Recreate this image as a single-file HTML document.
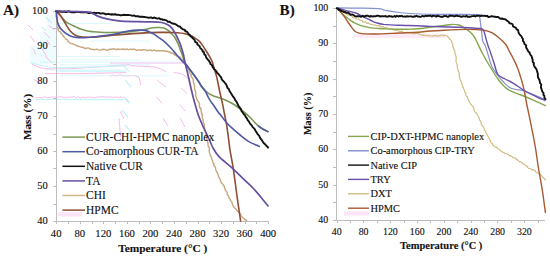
<!DOCTYPE html><html><head><meta charset="utf-8"><style>html,body{margin:0;padding:0;background:#fff;width:550px;height:259px;overflow:hidden}svg{display:block}text{font-family:"Liberation Serif",serif;fill:#111;stroke:#111;stroke-width:0.12px}</style></head><body>
<svg width="550" height="259" viewBox="0 0 550 259">
<rect width="550" height="259" fill="#fff"/>
<g fill="#effcfd">
<rect x="47" y="15" width="9" height="17"/>
<rect x="40" y="32" width="16" height="14"/>
<rect x="30" y="46" width="26" height="18"/>
</g>
<g fill="#fdeaf7">
<rect x="353" y="34" width="92" height="4"/>
<rect x="56" y="12" width="6" height="8"/>
</g>
<g fill="none" stroke="#f8b2e9" stroke-width="0.9">
<path d="M31.6,63.9 C38,67.5 42,68.8 50,68.9 L68.3,68.8 C95,67.5 115,65.5 130,64.6"/>
<path d="M45.1,73.6 L77.9,73.6 L126,72.6"/>
<path d="M110,63 L183.4,63"/>
<path d="M130,65.6 L148.6,66.6 C155,67 159,68 161,69 L166,71.7"/>
<path d="M173.7,72.6 C178,72.8 182,73.8 184,75 L189.2,79.4"/>
<path d="M35.4,97.3 L36.9,97.5 L38.4,97.6 L39.9,97.7 L41.4,97.5 L42.9,97.7 L44.4,96.6 L45.9,97.2 L47.4,97.7 L48.9,97.4 L50.4,97.7 L51.9,96.7 L53.4,97.2 L54.9,96.9 L56.4,97.3 L57.9,97.3 L59.4,96.6 L60.9,96.9 L62.4,96.9 L63.9,97.7 L65.4,97.5 L66.9,96.8 L68.4,97.6 L69.9,96.8 L71.4,97.3 L72.9,96.8 L74.4,96.6 L75.9,97.6 L77.4,96.9 L78.9,96.9 L80.4,97.8 L81.9,97.6 L83.4,96.9 L84.9,97.8 L86.4,97.2 L87.9,97.4 L89.4,96.8 L90.9,97.7 L92.4,97.4 L93.9,97.8 L95.4,97.7 L96.9,97.0 L98.4,97.0 L99.9,96.8 L101.4,96.8 L102.9,96.7 L104.4,97.0 L105.9,97.3 L107.4,96.6 L108.9,97.4 L110.4,97.0 L111.9,97.0 L113.4,97.6 L114.9,97.2 L116.4,97.0 L117.9,97.2 L119.4,97.4 L120.9,96.7 L122.4,97.8 L123.9,96.6"/>
<path d="M124,97.5 L127,99 L129,103"/>
<path d="M110.0,75.7 L111.5,75.8 L113.0,75.0 L114.5,75.8 L116.0,75.4 L117.5,75.6 L119.0,75.0 L120.5,75.0 L122.0,75.2 L123.5,76.0 L125.0,75.2 L126.5,75.8 L128.0,75.9 L129.5,75.9 L131.0,75.3 L132.5,75.4"/>
<path d="M133,75 L139,77.4 L140.9,85"/>
<path d="M48.4,19.6 L51.9,23.1"/>
<path d="M48.4,25.4 L54.8,30.0"/>
<path d="M44.3,32.4 L50.1,38.2"/>
<path d="M46.7,39.9 L50.1,45.0"/>
<path d="M32.7,48.6 L36.2,54.4"/>
<path d="M42.0,48.6 L46.7,56.7"/>
<path d="M45.5,56.7 L52.4,63.1"/>
<path d="M33.5,79.4 L41.2,83.2"/>
<path d="M157.3,80.3 L166.0,87.1"/>
<path d="M181.4,88.0 L187.2,93.9"/>
<path d="M156.3,96.7 L162.1,103.5"/>
<path d="M179.5,104.5 L185.3,111.2"/>
<path d="M163.0,118.0 L168.0,126.0"/>
<path d="M180.0,118.0 L185.0,127.0"/>
<path d="M28.0,25.0 L33.0,30.0"/>
<path d="M30.0,36.0 L35.0,42.0"/>
<path d="M120.0,111.0 L124.0,119.0"/>
<path d="M119.0,118.0 L120.5,137.0"/>
</g>
<g fill="none" stroke="#c4f4f8" stroke-width="1.3">
<path d="M31,62.5 C40,66 50,67.5 58.6,67.8 L126,65.9"/>
<path d="M58,71.2 L126,71.2"/>
<path d="M40.0,62.2 L180.0,62.2" stroke-width="1" opacity="0.6"/>
<path d="M60.0,64.8 L150.0,64.8" stroke-width="1" opacity="0.6"/>
<path d="M45.0,70.0 L120.0,70.0" stroke-width="1" opacity="0.6"/>
<path d="M60.0,75.8 L170.0,75.8" stroke-width="1" opacity="0.6"/>
<path d="M56.0,23.5 L110.0,23.5" stroke-width="1" opacity="0.6"/>
<path d="M60.0,33.0 L100.0,33.0" stroke-width="1" opacity="0.6"/>
<path d="M90.0,41.0 L150.0,41.0" stroke-width="1" opacity="0.6"/>
<path d="M56.0,56.5 L120.0,56.5" stroke-width="1" opacity="0.6"/>
<path d="M60.0,60.0 L140.0,60.0" stroke-width="1" opacity="0.6"/>
<path d="M36,99.3 L124,99.6"/>
<path d="M123.5,65.9 L129.3,71.7"/>
<path d="M125.4,80.3 L131.2,87.1"/>
<path d="M123.5,96.7 L129.3,103.5"/>
<path d="M122.0,110.0 L128.0,117.0"/>
<path d="M125.0,125.0 L130.0,131.0"/>
<path d="M46.0,17.0 L49.0,21.0"/>
<path d="M42.0,27.0 L46.0,31.0"/>
<path d="M40.0,41.0 L44.0,45.0"/>
</g>
<path d="M56.5,11 V221.5 H268.5" fill="none" stroke="#bdbdbd" stroke-width="1"/>
<path d="M56.5,221.5 v2.5 M68.5,221.5 v2.5 M80.5,221.5 v2.5 M92.5,221.5 v2.5 M103.5,221.5 v2.5 M115.5,221.5 v2.5 M127.5,221.5 v2.5 M139.5,221.5 v2.5 M150.5,221.5 v2.5 M162.5,221.5 v2.5 M174.5,221.5 v2.5 M186.5,221.5 v2.5 M198.5,221.5 v2.5 M209.5,221.5 v2.5 M221.5,221.5 v2.5 M233.5,221.5 v2.5 M245.5,221.5 v2.5 M256.5,221.5 v2.5 M268.5,221.5 v2.5 M53.2,11.5 h3.3 M53.2,28.5 h3.3 M53.2,46.5 h3.3 M53.2,64.5 h3.3 M53.2,81.5 h3.3 M53.2,98.5 h3.3 M53.2,116.5 h3.3 M53.2,134.5 h3.3 M53.2,151.5 h3.3 M53.2,168.5 h3.3 M53.2,186.5 h3.3 M53.2,204.5 h3.3 M53.2,221.5 h3.3" stroke="#bdbdbd" stroke-width="1" fill="none"/>
<path d="M336.5,7.5 V220.5 H545" fill="none" stroke="#bdbdbd" stroke-width="1"/>
<path d="M337.5,220.5 v2.5 M350.5,220.5 v2.5 M363.5,220.5 v2.5 M377.5,220.5 v2.5 M390.5,220.5 v2.5 M404.5,220.5 v2.5 M417.5,220.5 v2.5 M430.5,220.5 v2.5 M444.5,220.5 v2.5 M457.5,220.5 v2.5 M471.5,220.5 v2.5 M484.5,220.5 v2.5 M497.5,220.5 v2.5 M511.5,220.5 v2.5 M524.5,220.5 v2.5 M538.5,220.5 v2.5 M333,8.5 h3.5 M333,26.5 h3.5 M333,43.5 h3.5 M333,61.5 h3.5 M333,79.5 h3.5 M333,96.5 h3.5 M333,114.5 h3.5 M333,132.5 h3.5 M333,149.5 h3.5 M333,167.5 h3.5 M333,185.5 h3.5 M333,202.5 h3.5 M333,220.5 h3.5" stroke="#bdbdbd" stroke-width="1" fill="none"/>
<rect x="58" y="212.3" width="24" height="4.2" fill="#fde4f6"/>
<rect x="344" y="211.3" width="25" height="4.2" fill="#fde4f6"/>
<path d="M56.2,13.5 L56.3,14.2 L56.3,15.2 L56.0,16.4 L56.6,17.6 L56.7,18.9 L56.7,20.0 L57.3,21.0 L57.0,22.1 L57.0,23.2 L57.0,24.2 L57.9,25.0 L57.8,26.0 L58.2,26.7 L57.6,27.7 L58.0,28.4 L58.9,28.8 L58.1,29.9 L58.4,30.5 L59.0,31.0 L59.4,31.6 L60.2,31.8 L60.7,32.3 L60.6,33.1 L61.4,33.3 L61.7,33.9 L62.0,34.3 L62.6,34.6 L62.7,35.4 L63.2,35.8 L63.4,36.7 L64.2,37.0 L64.7,37.7 L65.5,38.3 L66.0,39.1 L66.9,39.6 L67.8,40.1 L68.0,41.4 L68.9,42.1 L69.9,42.8 L70.9,43.4 L72.2,43.7 L73.4,44.2 L74.8,44.9 L76.4,45.2 L77.8,46.4 L79.7,46.5 L81.3,47.4 L83.0,47.3 L84.5,48.3 L86.1,48.5 L87.9,47.9 L89.4,48.4 L90.9,49.4 L92.6,49.2 L94.0,49.9 L95.5,49.4 L96.9,49.2 L98.3,49.9 L100.1,50.1 L102.3,49.5 L103.6,49.3 L105.0,49.6 L106.5,50.2 L108.0,50.0 L109.7,49.2 L111.3,49.3 L113.1,49.0 L114.8,48.9 L116.6,49.7 L118.3,49.0 L119.9,49.4 L121.6,49.2 L123.3,49.0 L124.9,49.6 L126.6,49.0 L128.3,49.6 L130.1,49.1 L131.8,49.5 L133.4,49.3 L135.1,49.4 L136.6,50.3 L138.1,50.1 L139.5,49.6 L140.9,50.3 L143.3,49.7 L145.3,49.9 L147.1,50.5 L148.8,50.3 L150.4,49.8 L152.0,50.8 L153.6,50.1 L155.0,50.3 L156.3,51.0 L157.7,50.7 L158.9,50.8 L160.0,50.6 L161.0,50.6 L161.9,51.1 L162.7,50.6 L163.5,50.9 L164.2,50.6 L165.0,50.7 L165.7,51.4 L166.7,51.1 L167.5,51.5 L168.2,52.0 L169.3,51.7 L170.1,51.9 L170.7,53.1 L171.5,53.3 L172.7,53.2 L173.5,53.6 L174.1,54.5 L174.8,55.1 L175.9,54.8 L176.3,55.9 L177.1,56.2 L178.0,56.3 L178.8,56.6 L179.8,56.9 L180.6,57.5 L180.6,58.9 L182.0,59.1 L182.3,60.2 L183.5,60.8 L183.7,62.2 L184.7,63.2 L185.7,64.2 L186.6,65.5 L186.8,67.1 L188.2,68.1 L188.8,69.6 L189.1,71.1 L189.5,72.5 L190.4,73.8 L191.3,75.0 L191.2,76.7 L192.5,77.9 L193.2,79.4 L193.3,81.1 L193.5,82.9 L194.3,84.5 L194.5,86.2 L194.6,88.0 L194.8,89.7 L195.6,91.3 L195.8,93.1 L195.6,94.9 L195.9,96.6 L196.6,98.0 L197.0,99.5 L197.6,100.8 L198.5,101.8 L199.1,103.0 L199.6,104.2 L199.1,105.6 L199.7,106.7 L199.8,107.9 L201.1,108.7 L200.8,110.0 L201.2,111.0 L201.3,112.1 L201.9,113.0 L201.4,114.1 L202.6,114.8 L202.3,115.9 L202.3,116.9 L202.4,118.1 L202.8,119.2 L203.1,120.4 L203.2,121.6 L203.4,122.9 L204.3,124.3 L204.3,126.0 L204.5,128.1 L204.9,130.3 L205.9,132.6 L206.0,135.1 L206.4,137.4 L207.1,139.5 L207.4,141.4 L208.0,143.0 L208.0,144.7 L208.3,146.3 L209.3,147.9 L209.2,150.0 L209.4,152.4 L210.2,154.8 L210.8,156.1 L211.5,157.3 L211.6,158.7 L212.2,160.0 L212.8,161.2 L212.8,162.7 L214.0,163.6 L213.7,165.1 L215.4,167.2 L215.7,169.7 L216.8,171.9 L218.0,174.1 L218.5,176.4 L219.7,178.5 L220.5,180.6 L221.2,182.7 L222.8,184.2 L224.0,186.0 L224.8,188.1 L225.5,190.5 L226.6,191.5 L227.2,192.6 L227.1,194.3 L228.0,195.5 L228.8,196.7 L229.1,198.3 L230.3,199.3 L230.6,200.8 L231.7,201.8 L232.2,203.2 L232.5,204.5 L233.0,205.7 L234.4,207.8 L236.2,209.3 L237.4,211.2 L238.9,212.6 L240.3,213.9 L241.2,215.5 L242.1,217.0 L243.2,218.1 L244.4,219.0 L245.2,220.1 L246.5,220.3 L246.9,221.0" fill="none" stroke="#c8a67e" stroke-width="1.4" stroke-linejoin="round" stroke-linecap="round"/>
<path d="M56.2,11.0 C56.4,11.3 56.9,11.8 57.6,12.6 C58.3,13.4 59.5,14.5 60.5,15.7 C61.5,16.9 62.4,18.5 63.5,19.6 C64.6,20.8 65.8,21.8 67.0,22.6 C68.2,23.4 69.5,23.9 71.0,24.6 C72.5,25.3 74.2,26.2 75.7,26.9 C77.2,27.6 78.5,28.4 80.3,29.0 C82.0,29.6 84.2,30.4 86.2,30.8 C88.2,31.2 89.7,31.4 92.0,31.6 C94.3,31.8 97.2,32.1 100.0,32.2 C102.8,32.4 105.7,32.5 109.0,32.5 C112.3,32.5 116.8,32.5 120.0,32.4 C123.2,32.3 124.1,32.4 128.3,31.9 C132.5,31.4 141.4,30.2 145.0,29.6 C148.6,29.0 147.9,28.7 150.0,28.3 C152.1,27.9 155.4,27.6 157.7,27.5 C160.0,27.4 162.1,27.4 163.9,27.9 C165.7,28.4 167.0,29.6 168.3,30.5 C169.6,31.4 170.5,32.4 171.5,33.5 C172.5,34.6 173.6,35.7 174.5,37.0 C175.4,38.3 176.2,40.0 177.0,41.5 C177.8,43.0 178.3,44.3 179.0,46.0 C179.7,47.7 180.3,49.7 181.0,51.5 C181.7,53.3 182.3,55.0 183.0,57.0 C183.7,59.0 184.0,61.6 185.0,63.5 C186.0,65.4 187.6,66.9 188.8,68.5 C190.0,70.1 190.8,71.0 192.4,73.2 C194.0,75.4 197.0,79.4 198.5,81.6 C200.0,83.8 200.3,84.8 201.4,86.3 C202.5,87.8 203.8,89.4 205.0,90.6 C206.2,91.8 207.3,92.6 208.5,93.4 C209.7,94.2 210.9,94.8 212.0,95.3 C213.1,95.8 213.2,95.8 215.3,96.5 C217.4,97.2 221.5,98.4 224.7,99.8 C227.9,101.2 231.4,102.9 234.3,104.7 C237.2,106.5 239.9,108.8 242.0,110.4 C244.1,112.0 245.1,112.7 246.9,114.3 C248.7,115.9 250.6,118.0 252.6,120.0 C254.6,122.0 256.4,124.5 259.0,126.5 C261.6,128.4 266.5,130.8 268.0,131.7" fill="none" stroke="#7d9855" stroke-width="1.6" stroke-linejoin="round" stroke-linecap="round"/>
<path d="M258.5,126.0 C259.2,126.5 261.4,128.4 263.0,129.3 C264.6,130.2 267.2,131.3 268.0,131.7" fill="none" stroke="#5a5aa8" stroke-width="1.6" stroke-linejoin="round" stroke-linecap="round"/>
<path d="M56.2,11.0 C56.4,11.2 56.7,11.6 57.4,12.3 C58.1,13.0 59.2,13.9 60.2,15.2 C61.2,16.4 62.1,18.1 63.2,19.8 C64.3,21.5 65.4,23.7 66.6,25.6 C67.8,27.5 69.0,29.6 70.5,31.2 C72.0,32.8 73.5,34.2 75.3,35.2 C77.1,36.2 78.7,36.6 81.1,36.9 C83.5,37.2 86.8,37.2 89.8,37.2 C92.8,37.2 96.2,36.9 99.4,36.6 C102.6,36.3 105.6,35.9 109.0,35.6 C112.4,35.3 115.2,35.0 120.0,34.6 C124.8,34.2 131.3,33.8 138.0,33.4 C144.7,33.0 153.4,32.5 160.0,32.4 C166.6,32.3 172.6,32.3 177.4,32.7 C182.2,33.1 185.5,33.5 189.0,34.8 C192.5,36.1 196.3,38.8 198.6,40.6 C200.8,42.4 201.2,43.6 202.5,45.4 C203.8,47.2 205.1,49.3 206.3,51.2 C207.5,53.1 208.6,54.8 209.6,56.6 C210.6,58.4 211.5,59.8 212.3,62.0 C213.1,64.2 213.8,67.1 214.6,69.7 C215.3,72.3 216.2,74.9 216.8,77.4 C217.4,80.0 217.9,82.6 218.4,85.0 C218.9,87.4 219.3,89.8 219.8,92.0 C220.3,94.2 220.8,96.4 221.3,98.5 C221.8,100.6 222.1,102.0 222.7,104.7 C223.3,107.5 224.0,111.7 224.7,115.0 C225.3,118.3 226.0,121.0 226.6,124.7 C227.2,128.4 227.8,133.3 228.4,137.5 C229.0,141.7 229.2,144.7 230.0,150.0 C230.8,155.3 232.2,161.3 233.4,169.3 C234.6,177.3 236.1,189.6 237.3,198.2 C238.5,206.8 240.1,217.2 240.6,221.0" fill="none" stroke="#8e4e34" stroke-width="1.6" stroke-linejoin="round" stroke-linecap="round"/>
<path d="M56.2,11.0 C56.3,11.7 56.4,13.2 56.6,15.0 C56.8,16.8 57.0,19.8 57.5,21.9 C58.0,24.0 58.9,25.9 59.9,27.5 C60.9,29.1 62.3,30.4 63.7,31.6 C65.1,32.9 66.9,34.1 68.5,35.0 C70.1,35.9 71.5,36.6 73.4,37.1 C75.3,37.6 77.4,37.8 80.1,37.8 C82.8,37.8 86.6,37.5 89.8,37.3 C93.0,37.0 96.2,36.7 99.4,36.3 C102.6,35.9 105.8,35.5 109.0,35.0 C112.2,34.5 115.5,33.9 118.7,33.2 C121.9,32.5 125.1,31.5 128.3,31.0 C131.5,30.5 135.3,30.2 138.0,30.1 C140.7,30.0 142.8,30.1 144.7,30.4 C146.6,30.7 147.9,31.2 149.5,31.9 C151.1,32.6 153.0,33.5 154.4,34.4 C155.8,35.3 156.8,36.2 158.2,37.2 C159.6,38.2 161.0,38.8 162.9,40.4 C164.8,42.0 167.4,44.4 169.7,46.8 C171.9,49.1 174.2,51.9 176.4,54.5 C178.7,57.1 181.6,60.5 183.2,62.2 C184.8,63.9 184.7,62.8 186.2,64.6 C187.7,66.4 190.3,70.0 192.4,72.8 C194.5,75.6 197.0,79.0 198.5,81.3 C200.0,83.5 200.3,84.7 201.4,86.3 C202.5,87.9 204.1,89.2 205.3,91.1 C206.5,93.0 207.5,95.8 208.4,97.5 C209.3,99.2 209.8,100.1 210.7,101.4 C211.6,102.7 212.3,103.5 213.6,105.3 C214.9,107.1 217.2,110.8 218.4,112.5 C219.6,114.2 219.4,113.5 220.8,115.2 C222.2,116.9 224.3,120.2 226.6,122.7 C228.8,125.2 232.1,128.1 234.3,130.2 C236.6,132.2 237.7,133.1 240.1,135.0 C242.5,136.9 245.6,139.7 248.8,141.6 C252.0,143.5 257.6,145.6 259.4,146.4" fill="none" stroke="#4e58a6" stroke-width="1.6" stroke-linejoin="round" stroke-linecap="round"/>
<path d="M56.2,11.2 L58.3,11.4 L59.7,11.6 L61.1,11.7 L62.8,11.9 L64.5,11.8 L66.3,12.0 L68.1,11.3 L69.9,11.7 L71.7,12.3 L73.4,12.1 L75.0,12.4 L76.5,11.7 L78.0,12.1 L79.4,12.0 L80.9,12.3 L82.3,12.4 L83.8,12.0 L85.2,12.2 L86.7,12.4 L88.1,13.0 L89.6,13.0 L91.1,12.5 L92.6,13.2 L94.2,12.7 L95.7,13.2 L97.3,12.9 L98.9,12.9 L100.5,13.7 L102.2,13.3 L103.8,13.4 L105.4,14.2 L107.0,14.2 L108.7,13.8 L110.3,14.5 L111.9,14.2 L113.5,14.5 L115.2,14.2 L116.8,14.9 L118.5,14.8 L120.1,15.2 L121.8,15.2 L123.4,14.8 L125.1,15.0 L126.6,14.9 L128.2,15.0 L129.7,15.1 L131.2,15.4 L132.6,15.8 L134.1,15.4 L135.4,16.2 L136.8,16.1 L138.2,16.2 L139.4,16.8 L142.0,16.8 L144.4,17.0 L146.7,17.4 L148.8,17.8 L150.8,17.3 L152.7,18.2 L154.5,17.5 L156.1,18.3 L157.6,18.6 L159.3,18.2 L160.4,19.2 L161.8,19.2 L162.9,19.8 L164.3,19.8 L165.5,20.2 L166.8,20.7 L167.9,21.8 L169.4,21.6 L170.5,22.5 L171.8,23.1 L173.0,23.7 L174.6,23.8 L175.9,24.4 L177.1,25.3 L178.3,26.2 L179.9,26.4 L180.8,27.7 L181.9,28.5 L183.1,29.4 L184.7,29.7 L185.3,31.2 L186.8,31.5 L187.6,32.5 L188.3,33.5 L188.8,34.5 L189.9,34.9 L190.2,36.0 L191.1,36.6 L191.9,37.2 L192.6,38.0 L193.4,38.7 L194.1,39.4 L194.7,40.2 L194.9,41.2 L195.4,42.2 L196.6,42.5 L197.3,43.2 L197.3,44.5 L198.2,45.0 L199.0,45.7 L199.7,46.4 L200.0,47.3 L200.4,48.2 L201.2,48.8 L201.8,49.6 L202.6,50.3 L202.6,51.6 L203.9,52.1 L204.1,53.4 L204.5,54.6 L205.7,55.3 L205.9,56.7 L206.4,57.8 L207.2,58.7 L207.8,59.8 L208.9,60.5 L209.3,61.7 L210.2,62.6 L210.4,64.0 L211.6,64.7 L212.3,65.9 L212.7,67.2 L213.6,68.2 L214.3,69.4 L215.5,70.2 L216.3,71.3 L217.0,72.6 L218.0,73.6 L219.0,74.7 L219.8,75.8 L220.8,76.8 L221.4,78.0 L221.7,79.3 L222.4,80.3 L223.4,81.1 L224.3,82.1 L225.1,83.1 L226.0,84.1 L226.6,85.3 L227.0,86.7 L227.6,88.0 L228.8,89.0 L229.3,90.5 L230.2,92.0 L231.2,93.5 L232.1,95.1 L233.1,96.7 L234.4,98.2 L235.1,100.1 L236.5,101.6 L237.4,103.6 L238.3,105.5 L239.5,107.4 L240.9,109.0 L241.5,111.0 L242.7,112.5 L243.7,114.0 L245.1,115.2 L245.7,116.9 L246.9,118.3 L247.7,120.1 L249.0,121.6 L250.0,123.6 L251.5,125.2 L252.7,127.1 L254.4,128.6 L255.4,130.5 L256.5,132.3 L257.6,134.1 L259.1,135.6 L259.9,137.5 L261.0,139.2 L262.2,140.6 L263.0,142.2 L264.2,143.6 L265.6,144.7 L266.5,145.9 L267.6,146.7 L268.0,147.6" fill="none" stroke="#111111" stroke-width="1.9" stroke-linejoin="round" stroke-linecap="round"/>
<path d="M56.2,11.0 C59.3,11.1 69.6,11.3 75.0,11.5 C80.4,11.7 85.8,11.8 88.7,12.1 C91.6,12.4 91.0,12.8 92.6,13.5 C94.2,14.2 96.0,15.5 98.4,16.4 C100.8,17.3 103.6,18.2 107.0,18.9 C110.4,19.6 113.5,20.3 118.7,20.8 C123.9,21.3 132.8,21.5 138.0,21.7 C143.2,21.9 146.1,21.8 150.0,21.9 C153.9,22.0 158.6,22.0 161.6,22.5 C164.6,23.0 166.1,23.9 167.8,24.8 C169.5,25.7 170.5,26.7 171.6,27.9 C172.7,29.1 173.5,30.6 174.4,32.0 C175.3,33.4 176.1,35.1 176.8,36.5 C177.5,37.9 178.1,39.2 178.7,40.5 C179.3,41.8 179.8,42.8 180.2,44.0 C180.6,45.2 181.0,46.2 181.4,47.5 C181.8,48.8 182.2,50.2 182.6,51.5 C183.0,52.8 183.3,53.9 183.6,55.3 C183.9,56.7 184.2,58.5 184.5,60.0 C184.8,61.5 185.0,62.5 185.3,64.0 C185.7,65.5 186.2,67.2 186.6,69.0 C187.0,70.8 187.4,72.3 187.9,74.5 C188.4,76.7 189.1,79.6 189.6,82.0 C190.1,84.4 190.6,86.5 191.2,89.0 C191.8,91.5 192.4,94.3 193.1,97.0 C193.8,99.7 194.5,102.0 195.3,105.0 C196.2,108.0 197.0,111.4 198.2,114.7 C199.4,118.0 200.9,121.5 202.4,125.0 C203.9,128.5 205.6,131.6 207.4,135.5 C209.2,139.4 211.3,144.9 213.3,148.5 C215.3,152.1 216.5,154.0 219.5,157.2 C222.5,160.3 227.6,163.8 231.5,167.4 C235.4,171.0 239.8,175.5 243.1,178.6 C246.3,181.7 248.8,183.8 251.0,186.0 C253.2,188.2 254.8,190.1 256.5,192.0 C258.2,193.9 259.1,194.9 261.0,197.2 C262.9,199.5 266.8,204.4 268.0,205.9" fill="none" stroke="#6650a0" stroke-width="1.7" stroke-linejoin="round" stroke-linecap="round"/>
<path d="M336.8,8.5 L337.3,8.4 L337.5,9.2 L338.1,9.5 L338.8,9.8 L339.5,10.0 L339.8,10.8 L340.4,11.2 L341.1,11.4 L341.7,11.7 L342.5,11.9 L343.3,12.1 L344.1,12.9 L345.0,13.6 L346.5,13.6 L347.5,14.8 L349.1,14.9 L350.5,15.5 L351.9,15.9 L352.8,17.4 L354.2,17.7 L355.4,18.5 L356.8,18.9 L358.3,19.0 L359.5,19.8 L360.7,20.5 L362.1,20.7 L363.0,22.0 L364.5,21.9 L365.9,22.2 L367.1,23.3 L368.8,23.1 L370.0,24.3 L371.7,24.3 L373.2,24.8 L374.9,25.1 L376.4,25.6 L378.1,25.7 L379.7,25.8 L381.1,27.0 L382.9,26.7 L384.4,27.5 L386.1,27.3 L387.4,28.4 L388.9,28.8 L390.4,29.0 L391.9,29.5 L393.4,29.7 L394.9,30.2 L396.7,30.0 L398.2,30.8 L399.8,31.5 L401.6,31.2 L403.2,32.3 L404.9,32.6 L406.8,32.4 L408.6,32.6 L410.5,32.9 L412.3,33.0 L414.0,33.8 L415.8,33.5 L417.5,33.4 L419.1,33.8 L420.6,34.7 L422.0,35.3 L423.6,35.1 L425.0,35.3 L426.4,35.5 L427.7,35.9 L429.0,35.5 L430.2,36.0 L431.5,36.0 L432.7,36.1 L434.0,35.7 L435.2,35.7 L436.5,35.8 L437.7,36.3 L438.9,35.7 L440.0,35.9 L441.0,35.5 L442.0,35.2 L443.0,35.1 L444.0,35.7 L444.8,35.6 L445.6,35.3 L446.2,35.7 L446.7,35.8 L447.0,36.1 L447.4,36.4 L448.1,36.3 L448.1,37.1 L448.6,37.7 L449.4,38.1 L449.7,39.0 L450.5,39.7 L451.1,40.5 L451.6,41.4 L451.4,42.6 L452.5,43.4 L452.9,44.5 L452.6,45.8 L452.9,46.9 L453.5,48.0 L453.5,49.2 L454.5,50.0 L454.6,51.1 L454.9,52.2 L455.1,53.7 L455.7,55.3 L456.2,57.5 L456.2,58.8 L455.9,60.2 L456.1,61.6 L456.5,63.0 L457.1,64.4 L457.5,65.7 L457.1,67.2 L457.8,68.5 L458.1,70.9 L459.2,72.8 L459.4,74.6 L459.2,76.3 L459.7,77.9 L460.2,79.7 L461.1,81.6 L462.1,83.9 L462.4,85.3 L462.6,86.6 L463.5,87.8 L463.8,89.3 L464.6,90.5 L464.6,92.1 L465.9,93.1 L465.8,94.7 L466.1,96.0 L467.4,96.8 L468.0,99.2 L469.1,101.3 L470.2,103.3 L471.6,105.1 L473.0,106.7 L473.9,108.6 L474.3,110.5 L475.2,112.1 L476.6,113.2 L477.4,114.8 L478.2,116.3 L479.1,118.0 L479.7,120.0 L480.9,121.7 L481.2,124.0 L482.4,125.9 L483.9,127.6 L484.5,129.7 L485.6,131.6 L486.5,133.8 L487.8,135.8 L488.8,137.8 L489.7,139.6 L490.4,141.2 L490.8,142.6 L491.6,143.3 L492.5,143.6 L492.5,144.6 L493.1,145.3 L494.0,146.0 L495.1,146.9 L496.9,147.4 L498.0,148.8 L499.6,149.5 L500.5,151.0 L502.1,151.3 L502.9,152.4 L504.1,152.6 L504.8,153.4 L505.9,153.5 L506.9,153.6 L507.7,154.4 L508.7,154.8 L509.4,155.8 L510.6,155.6 L511.4,156.3 L512.4,156.9 L513.3,157.8 L514.9,157.7 L515.9,158.9 L517.2,159.6 L518.4,160.7 L519.6,161.7 L521.3,162.0 L522.4,163.3 L523.8,164.2 L525.1,165.3 L526.7,165.9 L527.5,167.4 L528.6,168.4 L530.0,168.5 L531.1,169.0 L531.7,170.0 L533.0,169.6 L533.9,170.0 L534.9,170.5 L535.5,171.7 L536.5,172.3 L537.7,172.6 L538.6,173.4 L539.9,173.6 L540.4,174.8 L541.5,175.5 L542.4,176.6 L543.4,177.5 L544.2,178.5 L545.1,179.2 L545.4,180.0" fill="none" stroke="#d0bd80" stroke-width="1.2" stroke-linejoin="round" stroke-linecap="round"/>
<path d="M336.8,7.8 C341.2,7.9 356.1,8.1 363.0,8.2 C369.9,8.3 375.1,8.4 378.4,8.6 C381.7,8.8 381.6,9.2 383.0,9.6 C384.4,9.9 384.3,10.2 387.0,10.7 C389.7,11.2 393.8,11.9 399.3,12.5 C404.8,13.1 412.6,13.7 420.0,14.0 C427.4,14.3 434.2,14.3 444.0,14.4 C453.8,14.5 472.6,14.2 478.5,14.6 C484.4,15.0 479.2,15.4 479.6,17.0 C480.0,18.6 480.3,21.7 480.6,24.0 C480.9,26.3 481.3,28.2 481.6,31.0 C481.9,33.8 482.0,38.1 482.6,40.6 C483.2,43.1 484.4,43.5 485.4,46.0 C486.3,48.5 487.2,51.9 488.3,55.4 C489.4,58.9 490.5,63.6 492.1,67.0 C493.7,70.3 496.1,73.1 497.9,75.5 C499.7,77.9 501.1,79.5 503.0,81.5 C504.9,83.5 507.3,86.1 509.5,87.4 C511.7,88.7 513.8,89.0 516.0,89.5 C518.2,90.0 519.9,89.7 523.0,90.6 C526.1,91.5 530.9,93.5 534.6,95.1 C538.3,96.6 543.6,99.1 545.4,99.9" fill="none" stroke="#8090d0" stroke-width="1.2" stroke-linejoin="round" stroke-linecap="round"/>
<path d="M336.8,8.0 C337.3,8.6 338.8,10.3 340.0,11.5 C341.2,12.7 342.6,14.2 344.0,15.4 C345.4,16.6 346.9,17.8 348.6,19.0 C350.3,20.2 351.9,21.5 354.0,22.6 C356.1,23.7 358.4,24.8 361.0,25.6 C363.6,26.4 366.6,27.1 369.5,27.6 C372.4,28.1 375.9,28.3 378.7,28.5 C381.4,28.7 383.2,28.8 386.0,28.9 C388.8,29.0 391.6,29.1 395.3,29.2 C399.0,29.2 404.2,29.3 408.0,29.2 C411.8,29.1 414.3,29.1 418.0,28.8 C421.7,28.5 425.7,27.8 430.0,27.2 C434.3,26.6 440.5,25.8 443.7,25.4 C446.9,25.0 447.3,24.9 449.0,24.7 C450.7,24.5 452.4,24.3 454.1,24.4 C455.8,24.4 457.7,24.7 459.0,25.0 C460.3,25.3 461.0,25.8 462.0,26.4 C463.0,27.0 463.9,27.8 465.0,28.6 C466.1,29.4 467.4,30.0 468.6,31.0 C469.9,32.0 471.3,33.0 472.5,34.5 C473.7,36.0 474.3,36.8 476.0,40.0 C477.7,43.2 480.1,49.0 482.5,53.5 C484.9,58.0 487.6,62.8 490.2,67.0 C492.8,71.2 495.8,76.0 497.9,79.0 C500.0,82.0 501.4,83.3 503.0,85.0 C504.6,86.7 505.8,88.0 507.6,89.2 C509.4,90.4 511.8,91.3 514.0,92.3 C516.2,93.3 518.0,93.8 521.1,95.0 C524.2,96.2 528.7,98.0 532.7,99.8 C536.8,101.6 543.3,104.6 545.4,105.6" fill="none" stroke="#86a64f" stroke-width="1.4" stroke-linejoin="round" stroke-linecap="round"/>
<path d="M336.8,8.2 C337.2,8.5 337.8,8.7 339.0,10.0 C340.2,11.3 342.5,14.2 344.0,16.2 C345.5,18.2 346.6,20.1 347.9,22.0 C349.2,23.9 350.5,25.8 351.7,27.4 C352.9,28.9 353.6,30.4 354.8,31.3 C356.0,32.2 357.3,32.7 359.0,33.1 C360.7,33.5 362.1,33.8 364.9,33.9 C367.7,34.0 370.3,34.1 376.0,34.0 C381.7,33.9 392.2,33.3 399.2,33.0 C406.2,32.7 412.9,32.5 418.0,32.2 C423.1,31.9 425.7,31.3 430.0,31.0 C434.3,30.7 437.9,30.5 444.0,30.2 C450.1,29.9 460.5,29.4 466.9,29.4 C473.3,29.4 478.4,29.4 482.6,30.0 C486.8,30.6 489.4,31.4 492.3,32.9 C495.2,34.4 497.8,36.8 500.0,38.7 C502.2,40.6 504.2,42.4 505.8,44.5 C507.4,46.6 508.2,49.2 509.5,51.6 C510.8,54.0 512.2,56.4 513.5,59.0 C514.8,61.6 515.9,63.7 517.2,67.0 C518.5,70.3 520.1,75.5 521.1,78.6 C522.1,81.7 522.3,82.7 523.0,85.4 C523.7,88.1 524.5,91.9 525.1,95.0 C525.7,98.1 526.1,100.8 526.7,104.0 C527.3,107.2 527.9,109.4 528.9,114.3 C529.9,119.2 531.7,128.0 532.8,133.6 C533.9,139.2 534.5,142.1 535.5,148.0 C536.5,153.9 537.4,161.8 538.6,169.0 C539.8,176.2 541.4,184.1 542.5,191.3 C543.6,198.6 544.9,209.0 545.4,212.5" fill="none" stroke="#a85a30" stroke-width="1.4" stroke-linejoin="round" stroke-linecap="round"/>
<path d="M336.8,8.0 C337.3,8.1 337.9,8.3 339.8,8.8 C341.8,9.3 345.9,10.5 348.5,11.2 C351.1,11.9 353.1,12.1 355.6,13.0 C358.1,13.9 360.7,15.4 363.3,16.6 C365.9,17.9 368.9,19.5 371.0,20.5 C373.1,21.5 373.9,22.0 376.0,22.6 C378.1,23.2 379.8,23.9 383.7,24.4 C387.6,24.8 393.5,25.1 399.2,25.3 C404.9,25.5 412.9,25.5 418.0,25.7 C423.1,25.9 424.8,26.2 430.0,26.4 C435.2,26.6 443.7,26.8 449.3,27.0 C454.9,27.2 458.9,27.3 463.8,27.5 C468.7,27.7 475.4,28.1 478.5,28.4 C481.6,28.7 481.6,28.4 482.6,29.2 C483.6,29.9 483.9,31.0 484.5,32.9 C485.1,34.8 485.8,38.2 486.5,40.6 C487.2,43.0 487.9,45.2 488.5,47.0 C489.1,48.8 489.3,48.9 490.2,51.6 C491.1,54.3 492.8,59.4 494.1,63.2 C495.4,67.0 496.1,72.1 497.9,74.7 C499.7,77.3 502.4,77.6 505.0,79.0 C507.6,80.4 510.1,81.3 513.4,83.3 C516.7,85.3 521.1,88.8 525.0,91.0 C528.9,93.2 533.2,95.2 536.5,96.8 C539.8,98.4 543.6,99.9 545.0,100.5" fill="none" stroke="#6a50a8" stroke-width="1.4" stroke-linejoin="round" stroke-linecap="round"/>
<path d="M336.8,8.4 L337.4,8.5 L338.2,8.8 L338.7,9.8 L340.0,9.7 L340.7,10.8 L341.8,11.0 L342.9,11.1 L343.8,12.0 L345.1,11.9 L346.1,12.7 L347.5,12.7 L348.7,13.1 L349.7,13.9 L350.6,14.8 L352.1,14.4 L353.3,14.9 L354.5,15.8 L355.9,16.5 L357.6,16.2 L359.2,16.1 L361.0,16.9 L362.9,15.7 L364.1,16.7 L365.2,16.0 L366.5,15.8 L367.8,15.8 L368.8,16.1 L369.8,16.7 L370.8,15.9 L371.9,16.4 L373.0,16.5 L374.1,16.2 L375.3,16.4 L376.6,15.8 L377.8,15.8 L379.1,15.9 L380.3,16.6 L381.6,16.2 L382.7,16.1 L383.7,16.4 L384.7,16.2 L385.7,16.0 L386.8,16.7 L387.9,16.6 L388.9,16.0 L390.0,16.4 L391.2,16.3 L392.3,16.8 L393.5,16.6 L394.6,16.0 L395.6,16.9 L396.6,15.8 L397.6,16.2 L398.6,16.6 L399.6,15.9 L400.7,16.3 L401.7,15.7 L402.8,16.5 L403.8,16.6 L404.9,16.4 L405.9,16.8 L407.0,16.1 L408.0,16.6 L409.1,16.4 L410.2,16.4 L411.2,16.3 L412.2,16.7 L413.2,16.9 L414.2,16.3 L415.3,16.5 L416.4,15.7 L417.6,16.6 L418.8,16.5 L420.0,16.9 L421.1,16.7 L422.1,16.0 L423.2,16.1 L424.2,16.5 L425.5,15.7 L426.8,16.2 L428.0,15.8 L429.3,15.8 L430.5,15.7 L431.7,16.6 L432.9,15.8 L434.2,15.9 L435.4,16.1 L436.4,16.7 L437.4,15.7 L438.4,16.1 L439.5,16.3 L440.6,16.7 L441.7,16.6 L442.9,16.7 L444.0,15.9 L445.1,16.1 L446.2,16.0 L447.3,16.7 L448.4,16.8 L449.5,15.8 L450.5,15.8 L451.5,15.9 L452.6,15.9 L453.6,16.2 L454.7,16.3 L455.7,15.9 L456.8,15.6 L457.9,16.1 L459.0,16.1 L460.1,16.3 L461.2,16.8 L462.2,16.5 L463.3,16.3 L464.4,16.4 L465.4,16.5 L466.5,15.7 L467.5,16.8 L468.6,16.6 L469.7,16.7 L470.8,16.6 L472.0,16.1 L473.1,16.1 L474.2,15.8 L475.4,16.5 L476.5,15.7 L477.6,15.7 L478.7,15.9 L479.7,15.9 L480.7,16.1 L481.8,15.7 L482.8,15.7 L483.8,15.9 L485.1,15.8 L486.1,16.2 L487.1,15.8 L488.4,17.0 L490.0,16.7 L491.7,16.2 L493.4,16.5 L495.0,16.7 L496.6,17.0 L498.2,16.9 L499.4,18.2 L500.6,18.7 L502.1,18.5 L503.3,19.0 L504.8,19.1 L506.1,19.9 L507.2,20.9 L508.6,21.7 L509.5,23.3 L511.4,23.6 L512.7,24.6 L513.1,26.5 L514.6,27.2 L516.0,27.9 L516.6,29.4 L518.1,30.1 L518.4,31.7 L518.8,33.2 L519.6,34.3 L520.5,35.4 L521.5,36.4 L522.0,37.7 L522.9,38.9 L522.9,40.8 L524.0,42.2 L524.6,44.1 L525.6,44.7 L526.2,45.6 L526.0,46.9 L526.3,47.9 L526.9,48.8 L527.5,49.8 L527.9,50.8 L528.5,51.7 L529.6,52.5 L529.8,53.8 L530.5,54.8 L531.4,55.8 L531.9,57.0 L532.1,58.4 L532.7,59.5 L532.6,60.9 L532.8,62.2 L533.9,63.1 L533.7,64.3 L534.0,65.3 L534.7,67.0 L535.9,68.3 L536.6,69.7 L537.0,71.1 L537.4,72.4 L537.9,73.9 L537.8,75.5 L538.0,77.2 L538.6,78.6 L539.5,80.0 L539.8,81.6 L540.0,83.1 L541.3,84.4 L541.0,86.1 L541.0,87.7 L541.6,89.2 L542.0,90.7 L542.7,92.0 L543.6,93.2 L543.4,94.9 L544.4,96.0 L544.4,97.4 L544.6,98.5 L545.5,99.0" fill="none" stroke="#111111" stroke-width="1.9" stroke-linejoin="round" stroke-linecap="round"/>
<text x="3.1" y="14.7" font-weight="bold" font-size="15.2">A)</text>
<text x="279.6" y="14.7" font-weight="bold" font-size="15.1">B)</text>
<text x="47.7" y="14.3" font-size="10.5" text-anchor="end">100</text>
<text x="47.7" y="49.3" font-size="10.5" text-anchor="end">90</text>
<text x="47.7" y="84.3" font-size="10.5" text-anchor="end">80</text>
<text x="47.7" y="119.3" font-size="10.5" text-anchor="end">70</text>
<text x="47.7" y="154.3" font-size="10.5" text-anchor="end">60</text>
<text x="47.7" y="189.3" font-size="10.5" text-anchor="end">50</text>
<text x="47.7" y="224.3" font-size="10.5" text-anchor="end">40</text>
<text x="56.2" y="236.8" font-size="10.7" text-anchor="middle">40</text>
<text x="79.8" y="236.8" font-size="10.7" text-anchor="middle">80</text>
<text x="103.3" y="236.8" font-size="10.7" text-anchor="middle">120</text>
<text x="126.9" y="236.8" font-size="10.7" text-anchor="middle">160</text>
<text x="150.4" y="236.8" font-size="10.7" text-anchor="middle">200</text>
<text x="174.0" y="236.8" font-size="10.7" text-anchor="middle">240</text>
<text x="197.5" y="236.8" font-size="10.7" text-anchor="middle">280</text>
<text x="221.1" y="236.8" font-size="10.7" text-anchor="middle">320</text>
<text x="244.6" y="236.8" font-size="10.7" text-anchor="middle">360</text>
<text x="268.2" y="236.8" font-size="10.7" text-anchor="middle">400</text>
<text x="328.2" y="10.8" font-size="9.9" text-anchor="end">100</text>
<text x="328.2" y="46.2" font-size="9.9" text-anchor="end">90</text>
<text x="328.2" y="81.6" font-size="9.9" text-anchor="end">80</text>
<text x="328.2" y="117.0" font-size="9.9" text-anchor="end">70</text>
<text x="328.2" y="152.4" font-size="9.9" text-anchor="end">60</text>
<text x="328.2" y="187.8" font-size="9.9" text-anchor="end">50</text>
<text x="328.2" y="223.2" font-size="9.9" text-anchor="end">40</text>
<text x="336.8" y="234.6" font-size="9.9" text-anchor="middle">40</text>
<text x="363.6" y="234.6" font-size="9.9" text-anchor="middle">80</text>
<text x="390.4" y="234.6" font-size="9.9" text-anchor="middle">120</text>
<text x="417.2" y="234.6" font-size="9.9" text-anchor="middle">160</text>
<text x="444.0" y="234.6" font-size="9.9" text-anchor="middle">200</text>
<text x="470.8" y="234.6" font-size="9.9" text-anchor="middle">240</text>
<text x="497.6" y="234.6" font-size="9.9" text-anchor="middle">280</text>
<text x="524.4" y="234.6" font-size="9.9" text-anchor="middle">320</text>
<text x="118.2" y="252.4" font-weight="bold" font-size="11.37">Temperature (°C )</text>
<text x="400" y="248.7" font-weight="bold" font-size="10.5">Temperature (°C )</text>
<text transform="translate(31.3,140) rotate(-90)" font-weight="bold" font-size="11.15">Mass (%)</text>
<text transform="translate(311.3,135.1) rotate(-90)" font-weight="bold" font-size="10.25">Mass (%)</text>
<path d="M62.4,137.1 H85" stroke="#7d9855" stroke-width="1.5"/>
<text x="86.1" y="140.7" font-size="11.45">CUR-CHI-HPMC nanoplex</text>
<path d="M62.4,151.7 H85" stroke="#4e58a6" stroke-width="1.5"/>
<text x="86.1" y="155.3" font-size="11.45">Co-amorphous CUR-TA</text>
<path d="M62.4,166.3 H85" stroke="#111111" stroke-width="1.5"/>
<text x="86.1" y="169.9" font-size="11.45">Native CUR</text>
<path d="M62.4,180.9 H85" stroke="#6650a0" stroke-width="1.5"/>
<text x="86.1" y="184.5" font-size="11.45">TA</text>
<path d="M62.4,195.5 H85" stroke="#c9b88a" stroke-width="1.5"/>
<text x="86.1" y="199.1" font-size="11.45">CHI</text>
<path d="M62.4,210.1 H85" stroke="#8e4e34" stroke-width="1.5"/>
<text x="86.1" y="213.7" font-size="11.45">HPMC</text>
<path d="M348,136.4 H369" stroke="#86a64f" stroke-width="1.4"/>
<text x="370.5" y="139.8" font-size="10.4">CIP-DXT-HPMC nanoplex</text>
<path d="M348,150.8 H369" stroke="#8090d0" stroke-width="1.4"/>
<text x="370.5" y="154.2" font-size="10.4">Co-amorphous CIP-TRY</text>
<path d="M348,165.1 H369" stroke="#111111" stroke-width="1.4"/>
<text x="370.5" y="168.5" font-size="10.4">Native CIP</text>
<path d="M348,179.4 H369" stroke="#6a50a8" stroke-width="1.4"/>
<text x="370.5" y="182.8" font-size="10.4">TRY</text>
<path d="M348,193.8 H369" stroke="#d0bd80" stroke-width="1.4"/>
<text x="370.5" y="197.2" font-size="10.4">DXT</text>
<path d="M348,208.2 H369" stroke="#a85a30" stroke-width="1.4"/>
<text x="370.5" y="211.6" font-size="10.4">HPMC</text>
</svg></body></html>
